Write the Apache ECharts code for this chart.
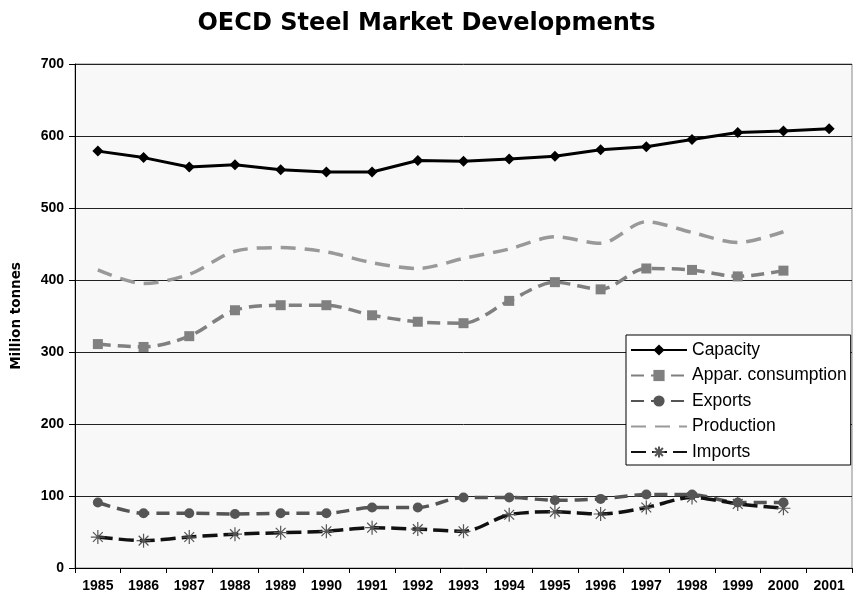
<!DOCTYPE html>
<html>
<head>
<meta charset="utf-8">
<script src="https://cdn.jsdelivr.net/npm/echarts@6/dist/echarts.min.js"></script>
<style>html,body{margin:0;padding:0;background:#fff;}#c{width:853px;height:601px;}</style>
</head>
<body>
<div id="c"></div>
<script>
const years = ['1985','1986','1987','1988','1989','1990','1991','1992','1993','1994','1995','1996','1997','1998','1999','2000','2001'];
const capacity = [579,570,557,560,553,550,550,566,565,568,572,581,585,595,605,607,610];
const apparConsumption = [311,307,322,358,365,365,351,342,340,371,397,387,416,414,405,413,null];
const exportsData = [91,76,76,75,76,76,84,84,98,98,94,96,102,102,91,91,null];
const production = [414,395,408,440,445,439,424,416,430,443,460,451,481,466,452,467,null];
const importsData = [43,38,43,47,49,51,56,54,51,74,78,75,84,98,89,83,null];
const yTicks = [0,100,200,300,400,500,600,700];

const font = 'Arial, "Liberation Sans", sans-serif';
const wideBold = '"DejaVu Sans", sans-serif';
const asterisk = 'path://M0,-10L0,10M-10,0L10,0M-7,-7L7,7M-7,7L7,-7';

const chart = echarts.init(document.getElementById('c'));
chart.setOption({
  animation: false,
  backgroundColor: '#fff',
  title: {
    text: 'OECD Steel Market Developments',
    left: 'center', top: 7,
    textStyle: {fontFamily: wideBold, fontSize: 24, fontWeight: 'bold', color: '#000'}
  },
  grid: {left: 75, right: 1, top: 64, bottom: 33, show: true, backgroundColor: '#f8f8f8', borderColor: '#888', borderWidth: 1},
  legend: {
    orient: 'vertical', left: 626, top: 335,
    backgroundColor: '#fff', borderColor: '#000', borderWidth: 1,
    padding: [6, 4, 4, 4], itemGap: 7.5, itemWidth: 56, itemHeight: 14,
    textStyle: {fontFamily: font, fontSize: 17.5, color: '#000'},
    data: ['Capacity','Appar. consumption','Exports','Production','Imports']
  },
  xAxis: {
    type: 'category', data: years, boundaryGap: true,
    axisLine: {lineStyle: {color: '#000', width: 1}},
    axisTick: {show: true, alignWithLabel: false, length: 5, lineStyle: {color: '#000'}},
    axisLabel: {fontFamily: font, fontSize: 14, fontWeight: 'bold', color: '#000', margin: 11, interval: 0},
    splitLine: {show: false}
  },
  yAxis: {
    type: 'value', min: 0, max: 700, interval: 100,
    name: 'Million tonnes', nameLocation: 'middle', nameGap: 52,
    nameTextStyle: {fontFamily: wideBold, fontSize: 13.5, fontWeight: 'bold', color: '#000'},
    axisLine: {show: true, lineStyle: {color: '#000'}},
    axisTick: {show: true, length: 6, lineStyle: {color: '#000'}},
    axisLabel: {fontFamily: font, fontSize: 14, fontWeight: 'bold', color: '#000', margin: 11,
      formatter: v => yTicks.includes(v) ? String(v) : ''},
    splitLine: {show: true, lineStyle: {color: '#222', width: 1}}
  },
  series: [
    {name: 'Capacity', type: 'line', data: capacity, symbol: 'diamond', symbolSize: 11,
      lineStyle: {color: '#000', width: 3}, itemStyle: {color: '#000'}},
    {name: 'Appar. consumption', type: 'line', data: apparConsumption, symbol: 'rect', symbolSize: 10, smooth: 0.3,
      lineStyle: {color: '#808080', width: 3.5, type: [13, 7]}, itemStyle: {color: '#808080'}},
    {name: 'Exports', type: 'line', data: exportsData, symbol: 'circle', symbolSize: 10, smooth: 0.3,
      lineStyle: {color: '#555', width: 3.5, type: [13, 7]}, itemStyle: {color: '#555'}},
    {name: 'Production', type: 'line', data: production, symbol: 'none', smooth: 0.3,
      lineStyle: {color: '#999', width: 3.5, type: [15, 9]}, itemStyle: {color: 'rgba(0,0,0,0)'}},
    {name: 'Imports', type: 'line', data: importsData, symbol: asterisk, symbolSize: 14, smooth: 0.3,
      lineStyle: {color: '#111', width: 3.5, type: [15, 6]},
      itemStyle: {color: '#555', borderColor: '#555', borderWidth: 1.2}}
  ]
});
</script>
</body>
</html>
